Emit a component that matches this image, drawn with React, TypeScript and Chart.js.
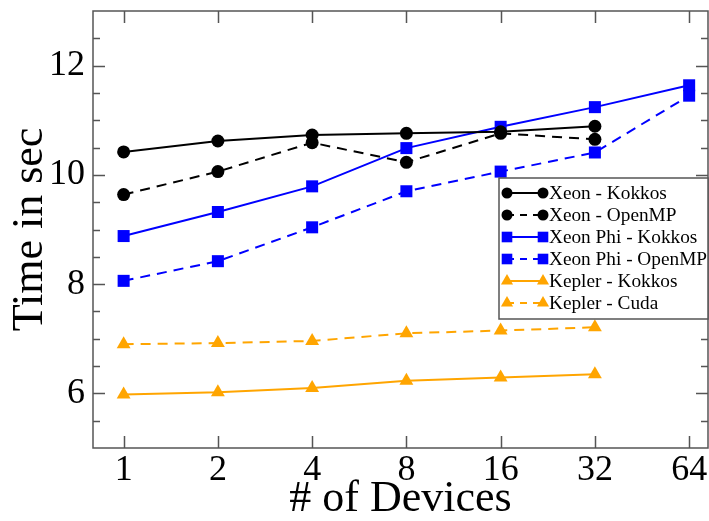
import React, { useEffect, useRef } from "react";
import { Chart, registerables } from "chart.js";

Chart.register(...registerables);

const devices = [1, 2, 4, 8, 16, 32, 64];
const xeonKokkos = [10.42, 10.62, 10.73, 10.76, 10.79, 10.89, null];
const xeonOpenMP = [9.64, 10.06, 10.59, 10.23, 10.76, 10.65, null];
const phiKokkos = [8.88, 9.32, 9.79, 10.49, 10.88, 11.24, 11.64];
const phiOpenMP = [8.06, 8.42, 9.04, 9.7, 10.06, 10.41, 11.45];
const keplerKokkos = [5.98, 6.02, 6.1, 6.23, 6.29, 6.35, null];
const keplerCuda = [6.9, 6.92, 6.96, 7.1, 7.15, 7.21, null];
const yTickLabels = [6, 8, 10, 12];
const yMinorStep = 0.5;

const SERIF = "'Liberation Serif', 'Times New Roman', serif";
const BLACK = "#000000";
const BLUE = "#0000ff";
const ORANGE = "#ffa500";
const FRAME = "#555555";

type SeriesDef = {
  label: string;
  values: (number | null)[];
  color: string;
  dashed: boolean;
  pointStyle: "circle" | "rect" | "triangle";
  radius: number;
};

const series: SeriesDef[] = [
  { label: "Xeon - Kokkos", values: xeonKokkos, color: BLACK, dashed: false, pointStyle: "circle", radius: 6.5 },
  { label: "Xeon - OpenMP", values: xeonOpenMP, color: BLACK, dashed: true, pointStyle: "circle", radius: 6.5 },
  { label: "Xeon Phi - Kokkos", values: phiKokkos, color: BLUE, dashed: false, pointStyle: "rect", radius: 8.5 },
  { label: "Xeon Phi - OpenMP", values: phiOpenMP, color: BLUE, dashed: true, pointStyle: "rect", radius: 8.5 },
  { label: "Kepler - Kokkos", values: keplerKokkos, color: ORANGE, dashed: false, pointStyle: "triangle", radius: 8 },
  { label: "Kepler - Cuda", values: keplerCuda, color: ORANGE, dashed: true, pointStyle: "triangle", radius: 8 },
];

const DASH = [10, 7];

function drawMarker(ctx: CanvasRenderingContext2D, style: string, x: number, y: number, r: number) {
  ctx.beginPath();
  if (style === "circle") {
    ctx.arc(x, y, r, 0, Math.PI * 2);
  } else if (style === "rect") {
    const s = r * Math.SQRT1_2;
    ctx.rect(x - s, y - s, 2 * s, 2 * s);
  } else {
    const a = (Math.PI * 2) / 3;
    ctx.moveTo(x, y - r);
    ctx.lineTo(x + Math.sin(a) * r, y - Math.cos(a) * r);
    ctx.lineTo(x + Math.sin(2 * a) * r, y - Math.cos(2 * a) * r);
    ctx.closePath();
  }
  ctx.fill();
}

const framePlugin = {
  id: "frameAndLegend",
  afterDatasetsDraw(chart: any) {
    const ctx: CanvasRenderingContext2D = chart.ctx;
    const { left, right, top, bottom } = chart.chartArea;
    const xs = chart.scales.x;
    const ys = chart.scales.y;
    ctx.save();
    ctx.strokeStyle = FRAME;
    ctx.lineWidth = 1.5;
    for (let v = ys.min + yMinorStep; v < ys.max - 1e-6; v += yMinorStep) {
      const py = Math.round(ys.getPixelForValue(v)) + 0.5;
      const major = yTickLabels.some((t) => Math.abs(t - v) < 1e-6);
      const len = major ? 12 : 7;
      ctx.beginPath();
      ctx.moveTo(left, py);
      ctx.lineTo(left + len, py);
      ctx.moveTo(right, py);
      ctx.lineTo(right - len, py);
      ctx.stroke();
    }
    devices.forEach((_, i) => {
      const px = Math.round(xs.getPixelForValue(i)) + 0.5;
      ctx.beginPath();
      ctx.moveTo(px, bottom);
      ctx.lineTo(px, bottom - 12);
      ctx.moveTo(px, top);
      ctx.lineTo(px, top + 12);
      ctx.stroke();
    });
    ctx.strokeRect(left, top, right - left, bottom - top);

    // legend
    const lx = 499;
    const ly = 178;
    const lw = right - lx;
    const lh = 141;
    ctx.fillStyle = "#ffffff";
    ctx.fillRect(lx, ly, lw, lh);
    ctx.strokeStyle = FRAME;
    ctx.lineWidth = 1.5;
    ctx.strokeRect(lx, ly, lw, lh);
    ctx.font = "19.3px " + SERIF;
    ctx.textBaseline = "middle";
    ctx.textAlign = "left";
    series.forEach((s, i) => {
      const cy = ly + 15 + i * 22;
      const x0 = 507;
      const x1 = 543;
      ctx.strokeStyle = s.color;
      ctx.fillStyle = s.color;
      ctx.lineWidth = 2;
      ctx.setLineDash(s.dashed ? [7, 6] : []);
      ctx.beginPath();
      ctx.moveTo(x0, cy);
      ctx.lineTo(x1, cy);
      ctx.stroke();
      ctx.setLineDash([]);
      const r = s.pointStyle === "circle" ? 5.5 : s.pointStyle === "rect" ? 7.5 : 7;
      drawMarker(ctx, s.pointStyle, x0, cy, r);
      drawMarker(ctx, s.pointStyle, x1, cy, r);
      ctx.fillStyle = "#000000";
      ctx.fillText(s.label, 549, cy + 1);
    });
    ctx.restore();
  },
};

export default function App() {
  const canvasRef = useRef<HTMLCanvasElement | null>(null);

  useEffect(() => {
    document.body.style.margin = "0";
    const canvas = canvasRef.current;
    if (!canvas) return;
    const chart = new Chart(canvas, {
      type: "line",
      data: {
        datasets: series.map((s) => ({
          label: s.label,
          data: s.values.map((v, i) => ({ x: i, y: v as any })),
          borderColor: s.color,
          backgroundColor: s.color,
          borderWidth: 2,
          borderDash: s.dashed ? DASH : [],
          pointStyle: s.pointStyle,
          pointRadius: s.radius,
          pointBorderWidth: 0,
          pointBackgroundColor: s.color,
          fill: false,
          tension: 0,
          spanGaps: false,
        })),
      },
      options: {
        animation: false,
        responsive: false,
        maintainAspectRatio: false,
        layout: { autoPadding: false, padding: { top: 11, right: 1, left: 0, bottom: 0 } },
        plugins: {
          legend: { display: false },
          tooltip: { enabled: false },
        },
        scales: {
          x: {
            type: "linear",
            min: -0.325,
            max: 6.2,
            grid: { display: false, drawTicks: false },
            border: { display: false },
            afterBuildTicks: (scale: any) => {
              scale.ticks = devices.map((_, i) => ({ value: i }));
            },
            afterFit: (scale: any) => {
              scale.height = 73;
              scale.paddingLeft = 0;
              scale.paddingRight = 0;
            },
            ticks: {
              autoSkip: false,
              maxRotation: 0,
              padding: 5,
              color: "#000",
              font: { family: SERIF, size: 36, lineHeight: 1.0 },
              callback: (v: any) => String(devices[Math.round(Number(v))] ?? ""),
            },
            title: {
              display: true,
              text: "# of Devices",
              color: "#000",
              font: { family: SERIF, size: 44, lineHeight: 1.0 },
              padding: { top: 0, bottom: 0 },
            },
          },
          y: {
            type: "linear",
            min: 5,
            max: 13,
            grid: { display: false, drawTicks: false },
            border: { display: false },
            afterBuildTicks: (scale: any) => {
              scale.ticks = yTickLabels.map((v) => ({ value: v }));
            },
            afterFit: (scale: any) => {
              scale.width = 93;
              scale.paddingTop = 0;
              scale.paddingBottom = 0;
            },
            ticks: {
              padding: 8,
              color: "#000",
              font: { family: SERIF, size: 36 },
              callback: (v: any) => String(v),
            },
            title: {
              display: true,
              text: "Time in sec",
              color: "#000",
              font: { family: SERIF, size: 44 },
              padding: { top: 4, bottom: 0 },
            },
          },
        },
      },
      plugins: [framePlugin],
    } as any);
    return () => chart.destroy();
  }, []);

  return (
    <div style={{ position: "absolute", left: 0, top: 0, width: 709, height: 521, background: "#fff" }}>
      <canvas ref={canvasRef} width={709} height={521} style={{ display: "block", width: 709, height: 521 }} />
    </div>
  );
}
